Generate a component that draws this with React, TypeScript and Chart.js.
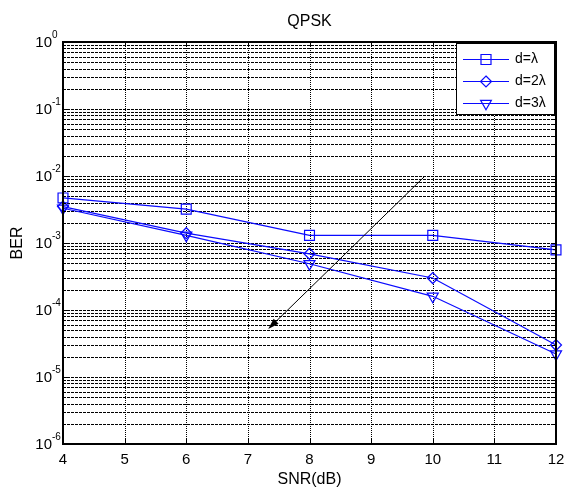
import React, { useEffect, useRef } from "react";
import { Chart, registerables } from "chart.js";

Chart.register(...registerables);

const snr = [4, 6, 8, 10, 12];
const berD1 = [4.7e-3, 3.2e-3, 1.3e-3, 1.3e-3, 7.9e-4];
const berD2 = [3.5e-3, 1.4e-3, 6.9e-4, 3.0e-4, 3.0e-5];
const berD3 = [3.3e-3, 1.3e-3, 4.9e-4, 1.6e-4, 2.2e-5];
const seriesLabels = ["d=λ", "d=2λ", "d=3λ"];
const xTicks = [4, 5, 6, 7, 8, 9, 10, 11, 12];
const yExponents = [0, -1, -2, -3, -4, -5, -6];
const arrowFrom = { x: 9.86, y: 9.7e-3 };
const arrowTo = { x: 7.33, y: 5.2e-5 };
const titleText = "QPSK";
const xTitle = "SNR(dB)";
const yTitle = "BER";

const FONT = "'Liberation Sans', Arial, Helvetica, sans-serif";
const BLUE = "rgb(10,10,255)";

const overlay = {
  id: "matlabOverlay",
  beforeDatasetsDraw(chart: any) {
    const { ctx, chartArea: a, scales } = chart;
    const xs = scales.x, ys = scales.y;
    ctx.save();
    ctx.lineWidth = 1;
    ctx.strokeStyle = "#000";
    ctx.setLineDash([3, 1]);
    for (let k = -6; k < 0; k++) {
      for (let m = 1; m <= 9; m++) {
        const v = m * Math.pow(10, k);
        const py = Math.round(ys.getPixelForValue(v)) + 0.5;
        if (py <= a.top + 1 || py >= a.bottom - 1) continue;
        ctx.beginPath();
        ctx.moveTo(a.left, py);
        ctx.lineTo(a.right, py);
        ctx.stroke();
      }
    }
    ctx.setLineDash([1, 1]);
    ctx.strokeStyle = "#000";
    for (const t of xTicks) {
      const px = Math.round(xs.getPixelForValue(t)) + 0.5;
      if (px <= a.left + 1 || px >= a.right - 1) continue;
      ctx.beginPath();
      ctx.moveTo(px, a.top);
      ctx.lineTo(px, a.bottom);
      ctx.stroke();
    }
    ctx.restore();
  },
  afterDatasetsDraw(chart: any) {
    const { ctx, chartArea: a, scales } = chart;
    const xs = scales.x, ys = scales.y;
    ctx.save();
    const x1 = xs.getPixelForValue(arrowFrom.x), y1 = ys.getPixelForValue(arrowFrom.y);
    const x2 = xs.getPixelForValue(arrowTo.x), y2 = ys.getPixelForValue(arrowTo.y);
    const ang = Math.atan2(y2 - y1, x2 - x1);
    const hl = 11, hw = 3.5;
    ctx.strokeStyle = "#000";
    ctx.fillStyle = "#000";
    ctx.lineWidth = 1;
    ctx.beginPath();
    ctx.moveTo(x1, y1);
    ctx.lineTo(x2 - Math.cos(ang) * hl * 0.8, y2 - Math.sin(ang) * hl * 0.8);
    ctx.stroke();
    ctx.beginPath();
    ctx.moveTo(x2, y2);
    ctx.lineTo(x2 - Math.cos(ang) * hl - Math.sin(ang) * hw, y2 - Math.sin(ang) * hl + Math.cos(ang) * hw);
    ctx.lineTo(x2 - Math.cos(ang) * hl + Math.sin(ang) * hw, y2 - Math.sin(ang) * hl - Math.cos(ang) * hw);
    ctx.closePath();
    ctx.fill();

    ctx.lineWidth = 2;
    ctx.strokeStyle = "#000";
    ctx.strokeRect(a.left, a.top, a.right - a.left, a.bottom - a.top);

    ctx.lineWidth = 1;
    for (const t of xTicks) {
      const px = Math.round(xs.getPixelForValue(t)) + 0.5;
      ctx.beginPath();
      ctx.moveTo(px, a.bottom);
      ctx.lineTo(px, a.bottom - 5);
      ctx.moveTo(px, a.top);
      ctx.lineTo(px, a.top + 5);
      ctx.stroke();
    }
    for (let k = -6; k <= 0; k++) {
      for (let m = 1; m <= 9; m++) {
        if (k === 0 && m > 1) break;
        const py = Math.round(ys.getPixelForValue(m * Math.pow(10, k))) + 0.5;
        const len = m === 1 ? 5 : 3;
        ctx.beginPath();
        ctx.moveTo(a.left, py);
        ctx.lineTo(a.left + len, py);
        ctx.moveTo(a.right, py);
        ctx.lineTo(a.right - len, py);
        ctx.stroke();
      }
    }

    ctx.fillStyle = "#000";
    ctx.font = `15px ${FONT}`;
    ctx.textAlign = "center";
    ctx.textBaseline = "middle";
    for (const t of xTicks) {
      ctx.fillText(String(t), xs.getPixelForValue(t), a.bottom + 16);
    }
    for (const e of yExponents) {
      const py = ys.getPixelForValue(Math.pow(10, e));
      ctx.font = `15px ${FONT}`;
      ctx.textAlign = "right";
      ctx.textBaseline = "middle";
      ctx.fillText("10", a.left - 11, py + 1);
      ctx.font = `10px ${FONT}`;
      ctx.textAlign = "left";
      ctx.fillText(String(e), a.left - 11, py - 7);
    }

    ctx.textAlign = "center";
    ctx.textBaseline = "middle";
    ctx.font = `16px ${FONT}`;
    ctx.fillText(titleText, (a.left + a.right) / 2, 22);
    ctx.fillText(xTitle, (a.left + a.right) / 2, a.bottom + 36);
    ctx.save();
    ctx.translate(18, (a.top + a.bottom) / 2);
    ctx.rotate(-Math.PI / 2);
    ctx.fillText(yTitle, 0, 0);
    ctx.restore();

    const lx = 456, ly = a.top + 1, lw = a.right - 1 - lx, lh = 72;
    ctx.fillStyle = "#fff";
    ctx.fillRect(lx, ly, lw, lh);
    ctx.lineWidth = 1;
    ctx.strokeStyle = "#000";
    ctx.strokeRect(lx + 0.5, ly + 0.5, lw - 1, lh - 1);
    const rows = [ly + 16, ly + 38, ly + 60];
    chart.data.datasets.forEach((ds: any, i: number) => {
      const ry = rows[i] + 0.5;
      ctx.strokeStyle = BLUE;
      ctx.lineWidth = 1.2;
      ctx.beginPath();
      ctx.moveTo(lx + 7, ry);
      ctx.lineTo(lx + 53, ry);
      ctx.stroke();
      const cx = lx + 30;
      ctx.beginPath();
      if (i === 0) {
        ctx.rect(cx - 5, ry - 5, 10, 10);
      } else if (i === 1) {
        ctx.moveTo(cx, ry - 5.5);
        ctx.lineTo(cx + 5.5, ry);
        ctx.lineTo(cx, ry + 5.5);
        ctx.lineTo(cx - 5.5, ry);
        ctx.closePath();
      } else {
        const r = 6.2;
        ctx.moveTo(cx, ry + r);
        ctx.lineTo(cx + r * 0.866, ry - r / 2);
        ctx.lineTo(cx - r * 0.866, ry - r / 2);
        ctx.closePath();
      }
      ctx.stroke();
      ctx.fillStyle = "#000";
      ctx.font = `14px ${FONT}`;
      ctx.textAlign = "left";
      ctx.textBaseline = "middle";
      ctx.fillText(ds.label, lx + 59, ry);
    });
    ctx.restore();
  },
};

export default function App() {
  const ref = useRef<HTMLCanvasElement | null>(null);
  useEffect(() => {
    document.body.style.margin = "0";
    const mk = (label: string, data: number[], style: string, radius: number, rot: number) => ({
      label,
      data: snr.map((x, i) => ({ x, y: data[i] })),
      borderColor: BLUE,
      backgroundColor: "transparent",
      pointBackgroundColor: "transparent",
      pointBorderColor: BLUE,
      pointStyle: style,
      pointRadius: radius,
      pointRotation: rot,
      pointBorderWidth: 1.2,
      borderWidth: 1.2,
      tension: 0,
      clip: false,
    });
    const chart = new Chart(ref.current as HTMLCanvasElement, {
      type: "line",
      data: {
        datasets: [
          mk(seriesLabels[0], berD1, "rect", 7, 0),
          mk(seriesLabels[1], berD2, "rectRot", 5.5, 0),
          mk(seriesLabels[2], berD3, "triangle", 6.4, 180),
        ],
      },
      options: {
        animation: false,
        responsive: false,
        layout: { padding: { left: 63, right: 9, top: 42, bottom: 46 } },
        plugins: { legend: { display: false }, tooltip: { enabled: false } },
        scales: {
          x: {
            type: "linear",
            min: 4,
            max: 12,
            ticks: { display: false },
            grid: { display: false, drawTicks: false },
            border: { display: false },
            afterFit: (s: any) => { s.height = 0; s.paddingLeft = 0; s.paddingRight = 0; },
          },
          y: {
            type: "logarithmic",
            min: 1e-6,
            max: 1,
            ticks: { display: false },
            grid: { display: false, drawTicks: false },
            border: { display: false },
            afterFit: (s: any) => { s.width = 0; s.paddingTop = 0; s.paddingBottom = 0; },
          },
        },
      },
      plugins: [overlay],
    });
    return () => chart.destroy();
  }, []);
  return (
    <div style={{ width: 565, height: 490, background: "#fff" }}>
      <canvas ref={ref} width={565} height={490} style={{ display: "block" }} />
    </div>
  );
}
